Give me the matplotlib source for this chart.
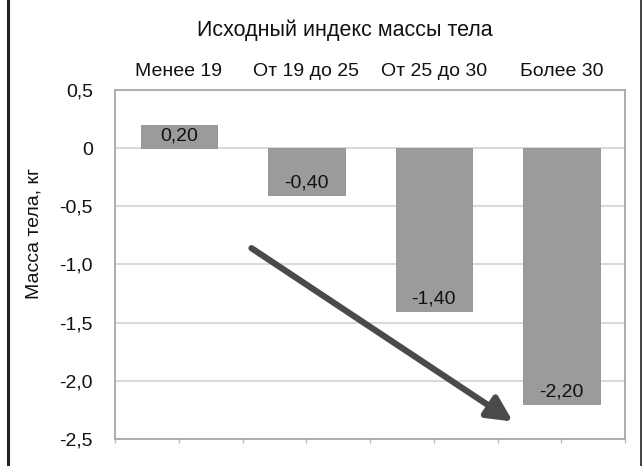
import matplotlib
matplotlib.use("Agg")
import matplotlib.pyplot as plt
import numpy as np

plt.rcParams['font.family'] = ['Liberation Sans', 'DejaVu Sans']

# Data
categories = ["Менее 19", "От 19 до 25", "От 25 до 30", "Более 30"]
values = [0.20, -0.40, -1.40, -2.20]
value_labels = ["0,20", "-0,40", "-1,40", "-2,20"]
y_ticks = [0.5, 0.0, -0.5, -1.0, -1.5, -2.0, -2.5]
y_tick_labels = ["0,5", "0", "-0,5", "-1,0", "-1,5", "-2,0", "-2,5"]
title = "Исходный индекс массы тела"
y_label = "Масса тела, кг"

# Trend arrow endpoints (data coordinates)
arrow_start = (0.57, -0.86)
arrow_end = (2.62, -2.35)

fig = plt.figure(figsize=(6.43, 4.66), dpi=100)
ax = fig.add_axes([0.179, 0.058, 0.793, 0.749])

x = np.arange(len(categories))
ax.bar(x, values, width=0.6, color="#9b9b9b", edgecolor="#8f8f8f", linewidth=0.6, zorder=2)

for xi, v, lab in zip(x, values, value_labels):
    yl = v - 0.1 if v > 0 else v + 0.1
    ax.text(xi, yl, lab, ha="center", va="center", fontsize=14, color="#111111", zorder=3)

ax.set_xlim(-0.5, 3.5)
ax.set_ylim(-2.5, 0.5)
ax.set_yticks(y_ticks)
ax.set_yticklabels(y_tick_labels, fontsize=14, color="#111111")
ax.tick_params(axis="y", length=0, pad=16)
ax.yaxis.grid(True, color="#dadada", linewidth=1.5, zorder=0)
ax.set_axisbelow(True)

# Small ticks along the bottom edge
ax.set_xticks(np.arange(-0.5, 3.51, 0.5))
ax.set_xticklabels([])
ax.tick_params(axis="x", length=3, color="#bbbbbb", width=1)

# Category labels along the top
sec = ax.secondary_xaxis("top")
sec.set_xticks(x)
sec.set_xticklabels(categories, fontsize=14, color="#111111")
sec.tick_params(length=0, pad=7)
sec.spines["top"].set_visible(False)

for s in ax.spines.values():
    s.set_color("#a8a8a8")
    s.set_linewidth(1.3)

ax.set_ylabel(y_label, fontsize=14, color="#111111")
ax.yaxis.set_label_coords(-0.142, 0.59)

fig.text(345 / 643, 1 - 30 / 466, title, ha="center", va="center", fontsize=15.5, color="#111111")

ax.annotate("", xy=arrow_end, xytext=arrow_start,
            arrowprops=dict(arrowstyle="-|>,head_length=1.5,head_width=0.75",
                            color="#4a4a4a", lw=4.5, shrinkA=0, shrinkB=0),
            zorder=4)

# Page frame lines
fig.add_artist(plt.Line2D([8 / 643, 8 / 643], [0, 1], color="#222222", linewidth=2.2))
fig.add_artist(plt.Line2D([641 / 643, 641 / 643], [0, 1], color="#222222", linewidth=1.2))

fig.savefig("out.png", dpi=100)
